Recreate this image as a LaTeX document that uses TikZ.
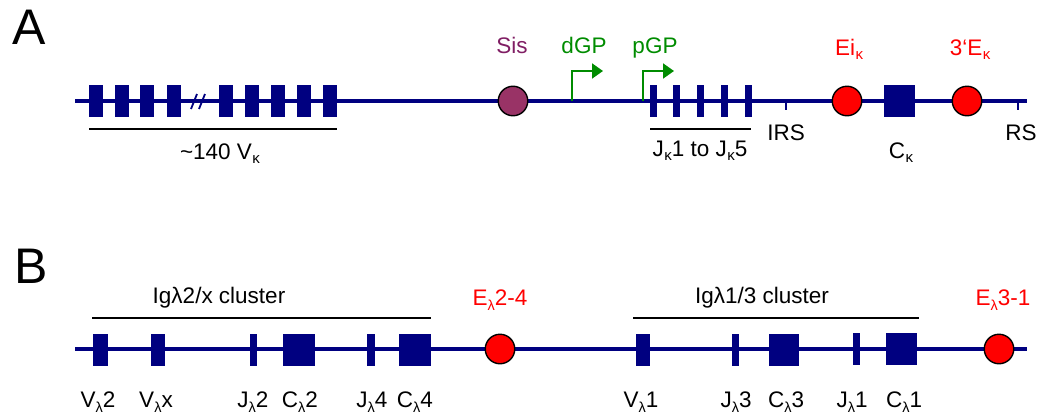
\documentclass[tikz,border=0pt]{standalone}
\usepackage{fontspec}
\setmainfont{Liberation Sans}
\usetikzlibrary{arrows.meta}
\definecolor{navy}{RGB}{0,0,128}
\definecolor{gpgreen}{RGB}{0,140,0}
\definecolor{sispurple}{RGB}{128,30,100}
\definecolor{sisfill}{RGB}{153,51,102}
\definecolor{enhred}{RGB}{255,0,0}
\newcommand\ksub{\kern0.5pt\raisebox{-0.18em}{\fontsize{15}{15}\selectfont κ}}
\newcommand\lsub{\raisebox{-0.26em}{\fontsize{14.5}{14.5}\selectfont λ}}
\begin{document}
\begin{tikzpicture}[x=1pt,y=-1pt,
  seg/.style={fill=navy, draw=none, inner sep=0pt, minimum height=32pt},
  vbox/.style={seg, minimum width=14pt},
  jbox/.style={seg, minimum width=7pt},
  cbox/.style={seg, minimum width=31pt},
  enh/.style={circle, draw=black, line width=1.4pt, fill=enhred, minimum size=29.5pt, inner sep=0pt},
  sisc/.style={enh, fill=sisfill},
  chrom/.style={draw=navy, line width=4pt},
  tick/.style={draw=navy, line width=1.5pt},
  brace/.style={draw=black, line width=1.2pt},
  lbl/.style={anchor=base, inner sep=0pt, font=\fontsize{22.5}{24}\selectfont},
  redlbl/.style={lbl, text=enhred},
  promoter/.style={draw=gpgreen, line width=2pt, -{Triangle[length=11pt,width=15pt]}},
  panel/.style={anchor=base west, inner sep=0pt, font=\fontsize{50}{52}\selectfont}]
\useasboundingbox (0,0) rectangle (1041,415);

% ---------- Panel A ----------
\node[panel] (pA) at (12,44) {A};
\coordinate (a0) at (75,101);
\coordinate (a1) at (1027,101);
\draw[chrom] (a0) -- (a1);
% V kappa segments
\foreach \x [count=\i] in {96,121.5,147,173.5,226,252,278,304,330}
  \node[vbox] (vk\i) at (\x,101) {};
% break marks
\coordinate (br1a) at (191,109); \coordinate (br1b) at (197,94);
\coordinate (br2a) at (199,109); \coordinate (br2b) at (205,94);
\draw[draw=navy, line width=1.8pt] (br1a) -- (br1b) (br2a) -- (br2b);
\coordinate (vkl) at (89,129); \coordinate (vkr) at (337,129);
\draw[brace] (vkl) -- (vkr);
\node[lbl] (vklab) at (220,159) {\textasciitilde 140 V\ksub};

% Sis
\node[sisc] (sis) at (513,101) {};
\node[lbl, text=sispurple] (sislab) at (512,53) {Sis};

% promoters
\coordinate (dgp0) at (572,101); \coordinate (dgp1) at (603,71);
\draw[promoter] (dgp0) |- (dgp1);
\node[lbl, text=gpgreen] (dgplab) at (584,53) {dGP};
\coordinate (pgp0) at (643,101); \coordinate (pgp1) at (674,71);
\draw[promoter] (pgp0) |- (pgp1);
\node[lbl, text=gpgreen] (pgplab) at (655,53) {pGP};

% J kappa
\foreach \x [count=\i] in {653.5,676.5,700,724,748.5}
  \node[jbox] (jk\i) at (\x,101) {};
\coordinate (jkl) at (650,129); \coordinate (jkr) at (751,129);
\draw[brace] (jkl) -- (jkr);
\node[lbl] (jklab) at (700,156) {J\ksub 1 to J\ksub 5};

% IRS, RS
\coordinate (irs0) at (786,101); \coordinate (irs1) at (786,110);
\draw[tick] (irs0) -- (irs1);
\node[lbl] (irslab) at (786,140) {IRS};
\coordinate (rs0) at (1018,101); \coordinate (rs1) at (1018,110);
\draw[tick] (rs0) -- (rs1);
\node[lbl] (rslab) at (1021,140) {RS};

% enhancers and C kappa
\node[enh] (eik) at (847,101) {};
\node[redlbl] (eiklab) at (849,55) {Ei\ksub};
\node[cbox] (ck) at (899,101) {};
\node[lbl] (cklab) at (901,158) {C\ksub};
\node[enh] (e3k) at (967,101) {};
\node[redlbl] (e3klab) at (970,55) {3‘E\ksub};

% ---------- Panel B ----------
\node[panel] (pB) at (14,283) {B};
\coordinate (b0) at (75,349);
\coordinate (b1) at (1027,349);
\draw[chrom] (b0) -- (b1);

\node[vbox, minimum width=15pt] (vl2) at (100.5,349.5) {};
\node[vbox] (vlx) at (158,349.5) {};
\node[jbox] (jl2) at (253.5,349.5) {};
\node[cbox, minimum width=32pt] (cl2) at (299,349.5) {};
\node[jbox, minimum width=8pt] (jl4) at (371,350) {};
\node[cbox, minimum width=32pt] (cl4) at (415,350) {};

\coordinate (c1l) at (92,318); \coordinate (c1r) at (431,318);
\draw[brace] (c1l) -- (c1r);
\node[lbl] (c1lab) at (219,303) {Igλ2/x cluster};

\node[enh] (el24) at (500,349) {};
\node[redlbl] (el24lab) at (500,305) {E\lsub 2-4};

\node[vbox] (vl1) at (643,349.5) {};
\node[jbox] (jl3) at (735.5,350) {};
\node[cbox, minimum width=30pt] (cl3) at (784,349.5) {};
\node[jbox] (jl1) at (856,349) {};
\node[cbox, minimum width=31pt] (cl1) at (901,349) {};

\coordinate (c2l) at (633,318); \coordinate (c2r) at (919,318);
\draw[brace] (c2l) -- (c2r);
\node[lbl] (c2lab) at (762,303) {Igλ1/3 cluster};

\node[enh] (el31) at (999,349) {};
\node[redlbl] (el31lab) at (1003,305) {E\lsub 3-1};

% labels below line B
\node[lbl] (vl2lab) at (98,407) {V\lsub 2};
\node[lbl] (vlxlab) at (156,407) {V\lsub x};
\node[lbl] (jl2lab) at (253,407) {J\lsub 2};
\node[lbl] (cl2lab) at (300,407) {C\lsub 2};
\node[lbl] (jl4lab) at (372,407) {J\lsub 4};
\node[lbl] (cl4lab) at (415,407) {C\lsub 4};
\node[lbl] (vl1lab) at (641,407) {V\lsub 1};
\node[lbl] (jl3lab) at (736,407) {J\lsub 3};
\node[lbl] (cl3lab) at (786,407) {C\lsub 3};
\node[lbl] (jl1lab) at (852,407) {J\lsub 1};
\node[lbl] (cl1lab) at (904,407) {C\lsub 1};
\end{tikzpicture}
\end{document}
